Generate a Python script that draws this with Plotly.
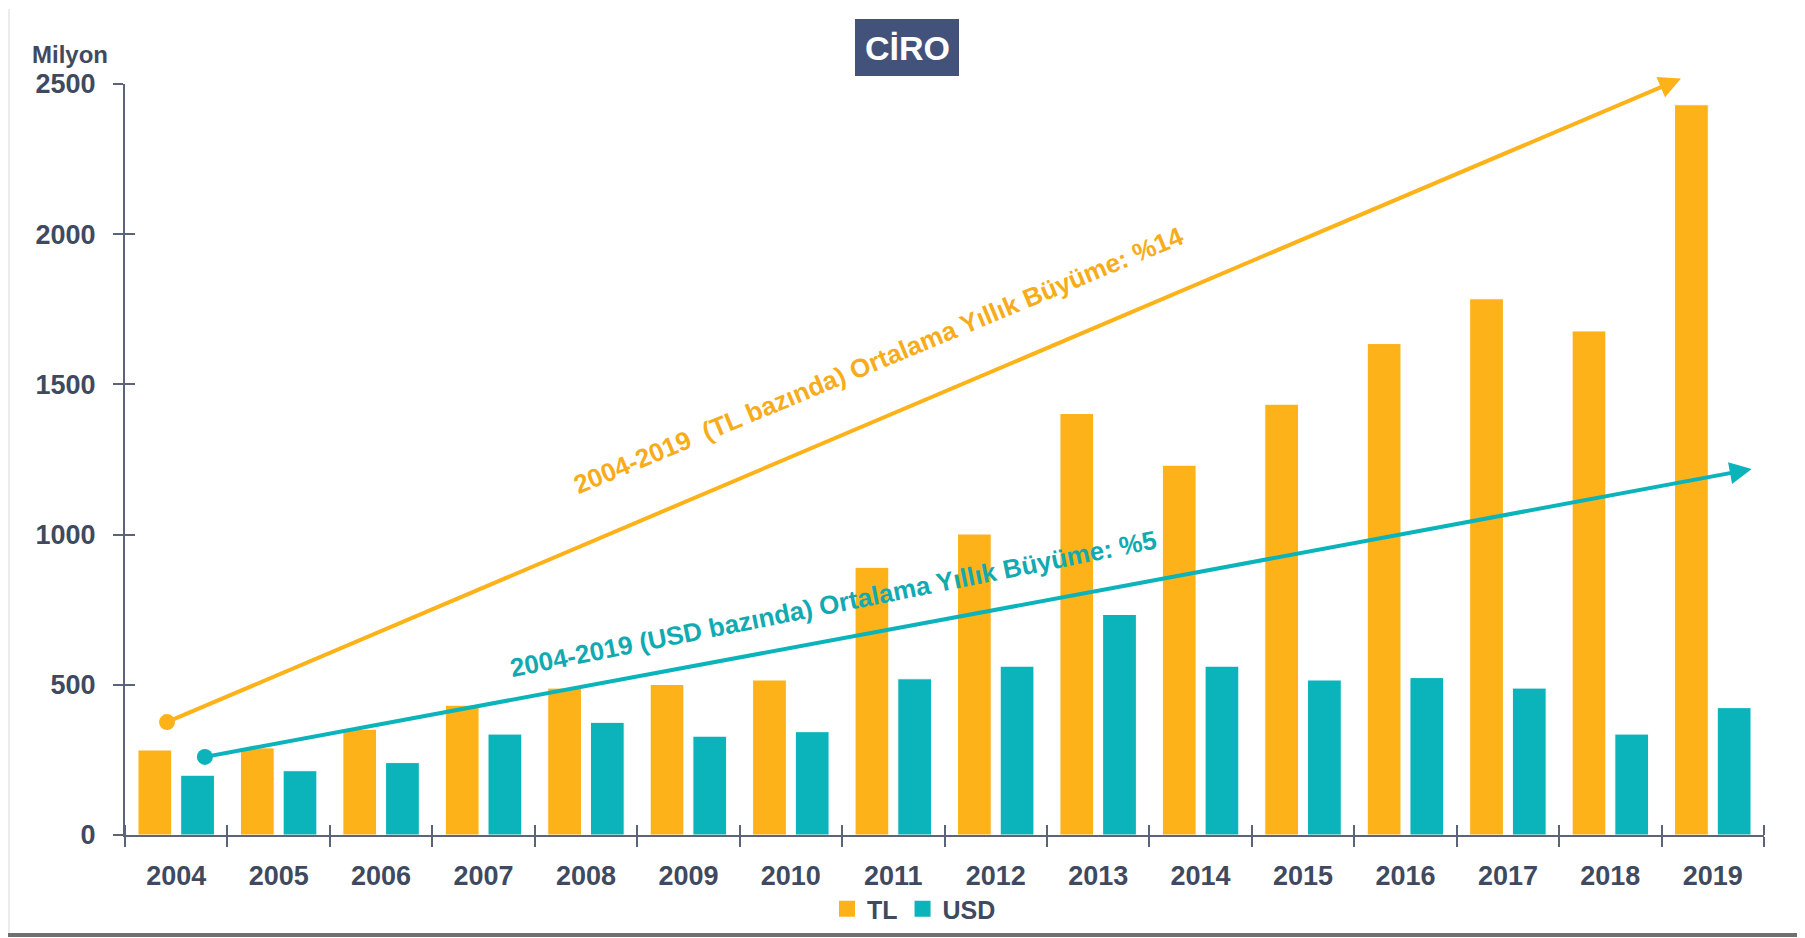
import plotly.graph_objects as go

# data (million)
years = list(range(2004, 2020))
tl = [283, 290, 352, 432, 489, 501, 516, 891, 1002, 1403, 1231, 1434, 1636, 1785, 1678, 2431]
usd = [199, 214, 241, 336, 375, 329, 344, 520, 562, 734, 562, 516, 524, 489, 336, 424]

# average growth trend arrows: (start year, start value, end year, end value)
tl_trend = [2003.91, 376, 2018.69, 2518]
usd_trend = [2004.28, 260, 2019.38, 1218]
tl_label = "2004-2019  (TL bazında) Ortalama Yıllık Büyüme: %14"
usd_label = "2004-2019 (USD bazında) Ortalama Yıllık Büyüme: %5"

ORANGE = "#FDB219"
TEAL = "#0BB3BA"
TEXT = "#3f4a60"
AXIS = "#5b6478"
FONT = "Liberation Sans, Arial, sans-serif"

# the page body has an 8px margin, so the figure is drawn from (8, 8) of the window
OFF = 8
W, H = 1805 - OFF, 938 - OFF
L, R, T, B = 125 - OFF, 41, 84 - OFF, 103
pw, ph = W - L - R, H - T - B


# page pixel -> paper coords
def px(x):
    return (x - OFF - L) / pw


def py(y):
    return (H - B - (y - OFF)) / ph


def bold(size, color=TEXT):
    return dict(size=size, color=color, family=FONT, weight="bold")


fig = go.Figure()
fig.add_trace(go.Bar(x=years, y=tl, name="TL", showlegend=False,
                     marker=dict(color=ORANGE, line=dict(color="white", width=1))))
fig.add_trace(go.Bar(x=years, y=usd, name="USD", showlegend=False,
                     marker=dict(color=TEAL, line=dict(color="white", width=1))))

# legend entries with bigger square swatches
for name, c in [("TL", ORANGE), ("USD", TEAL)]:
    fig.add_trace(go.Scatter(x=[None], y=[None], mode="markers", name=name,
                             marker=dict(color=c, symbol="square", size=16)))

# start dots of the trend arrows
fig.add_trace(go.Scatter(x=[tl_trend[0]], y=[tl_trend[1]], mode="markers",
                         marker=dict(color=ORANGE, size=16), showlegend=False, hoverinfo="skip"))
fig.add_trace(go.Scatter(x=[usd_trend[0]], y=[usd_trend[1]], mode="markers",
                         marker=dict(color=TEAL, size=16), showlegend=False, hoverinfo="skip"))

# invisible trace so the overlay axes (inner half of the crossing ticks) get drawn
fig.add_trace(go.Scatter(x=[years[0]], y=[0], xaxis="x2", yaxis="y2", mode="markers",
                         marker=dict(opacity=0), showlegend=False, hoverinfo="skip"))

for t, c in [(tl_trend, ORANGE), (usd_trend, TEAL)]:
    fig.add_annotation(x=t[2], y=t[3], ax=t[0], ay=t[1], xref="x", yref="y", axref="x", ayref="y",
                       text="", showarrow=True, arrowhead=2, arrowsize=1.1, arrowwidth=4,
                       arrowcolor=c, standoff=0, startstandoff=0)

fig.add_annotation(x=2010.86, y=1581, xref="x", yref="y", text=tl_label, showarrow=False,
                   textangle=-22.5, font=bold(26, "#F7AC1C"))
fig.add_annotation(x=2010.41, y=769, xref="x", yref="y", text=usd_label, showarrow=False,
                   textangle=-11.3, font=bold(26, "#12AAB1"))

# title box
fig.add_shape(type="rect", xref="paper", yref="paper", x0=px(855), x1=px(959), y0=py(76), y1=py(19),
              fillcolor="#43527a", line=dict(width=0), layer="below")
fig.add_annotation(x=px(907), y=py(48), xref="paper", yref="paper", text="CİRO", showarrow=False,
                   xanchor="center", yanchor="middle", font=bold(34, "white"))
fig.add_annotation(x=px(110), y=py(55), xref="paper", yref="paper", text="Milyon", showarrow=False,
                   xanchor="right", yanchor="middle", font=bold(24))

# card frame
fig.add_shape(type="line", xref="paper", yref="paper", x0=px(8), x1=px(1805), y0=py(935), y1=py(935),
              line=dict(color="#707070", width=4))
fig.add_shape(type="line", xref="paper", yref="paper", x0=px(9), x1=px(9), y0=py(9), y1=py(933),
              line=dict(color="#ececec", width=2))

tickfont = bold(27)
fig.update_layout(
    width=W, height=H,
    margin=dict(l=L, r=R, t=T, b=B, autoexpand=False),
    paper_bgcolor="white", plot_bgcolor="white",
    barmode="group", bargap=0.166, bargroupgap=0.21,
    font=dict(family=FONT, color=TEXT),
    showlegend=True,
    legend=dict(orientation="h", x=px(914), xanchor="center", y=py(909), yanchor="middle",
                font=bold(25), bgcolor="rgba(0,0,0,0)", itemwidth=30),
    xaxis=dict(range=[2003.5, 2019.5], tickvals=years, ticks="", showgrid=False, zeroline=False,
               automargin=False,
               showline=True, linecolor=AXIS, linewidth=2, tickfont=tickfont, ticklabelstandoff=16,
               minor=dict(tick0=2003.5, dtick=1, ticks="outside", ticklen=10, tickcolor=AXIS,
                          tickwidth=2, showgrid=False)),
    yaxis=dict(range=[0, 2500], dtick=500, ticks="outside", ticklen=10, tickcolor=AXIS, tickwidth=2,
               showgrid=False, zeroline=False, showline=True, linecolor=AXIS, linewidth=2,
               automargin=False, tickfont=tickfont, ticklabelstandoff=12),
    xaxis2=dict(overlaying="x", matches="x", showticklabels=False, ticks="", showgrid=False,
                zeroline=False, showline=False, automargin=False,
                minor=dict(tick0=2003.5, dtick=1, ticks="inside", ticklen=10, tickcolor=AXIS,
                           tickwidth=2, showgrid=False)),
    yaxis2=dict(overlaying="y", matches="y", showticklabels=False, ticks="inside", ticklen=10,
                automargin=False,
                tickcolor=AXIS, tickwidth=2, dtick=500, showgrid=False, zeroline=False, showline=False),
)

fig.write_html("out.html")
